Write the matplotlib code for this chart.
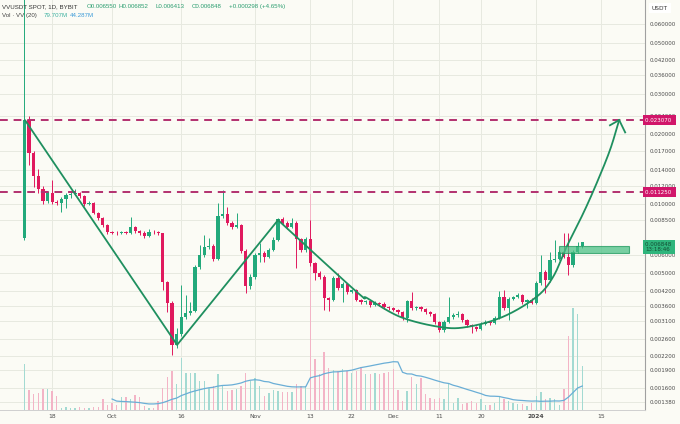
import numpy as np
import pandas as pd
import matplotlib
matplotlib.use("Agg")
import matplotlib.pyplot as plt
from matplotlib.patches import Rectangle
from matplotlib.ticker import NullLocator

# ---------------- data (daily candles, day 0 = 2023-09-12) ----------------
opens = [0.0071, 0.02307, 0.01661, 0.01320, 0.01159, 0.01029, 0.01115, 0.01018, 0.01009, 0.01049,
         0.01092, 0.01103, 0.01115, 0.01081, 0.00998, 0.01009, 0.00913, 0.00868, 0.00809, 0.00755,
         0.00750, 0.00745, 0.00755, 0.00748, 0.00793, 0.00762, 0.00748, 0.00725, 0.00755, 0.00752,
         0.00745, 0.00459, 0.00372, 0.00244, 0.00273, 0.00323, 0.00337, 0.00344, 0.00532, 0.00600,
         0.00650, 0.00657, 0.00577, 0.00885, 0.00903, 0.00826, 0.00793, 0.00809, 0.00625, 0.00441,
         0.00482, 0.00600, 0.00612, 0.00588, 0.00631, 0.00697, 0.00859, 0.00826, 0.00793, 0.00826,
         0.00704, 0.00631, 0.00704, 0.00554, 0.00502, 0.00482, 0.00390, 0.00383, 0.00477, 0.00432,
         0.00450, 0.00415, 0.00423, 0.00383, 0.00375, 0.00379, 0.00364, 0.00372, 0.00370, 0.00357,
         0.00353, 0.00347, 0.00340, 0.00320, 0.00379, 0.00353, 0.00357, 0.00350, 0.00340, 0.00334,
         0.00308, 0.00284, 0.00308, 0.00323, 0.00330, 0.00334, 0.00314, 0.00299, 0.00293, 0.00287,
         0.00302, 0.00308, 0.00305, 0.00320, 0.00395, 0.00353, 0.00387, 0.00395, 0.00402, 0.00375,
         0.00383, 0.00372, 0.00454, 0.00507, 0.00468, 0.00571, 0.00577, 0.00619, 0.00588, 0.00543,
         0.00619, 0.00655]
closes = [0.02307, 0.01661, 0.01320, 0.01159, 0.01029, 0.01115, 0.01018, 0.01009, 0.01049, 0.01092,
          0.01103, 0.01115, 0.01081, 0.00998, 0.01009, 0.00913, 0.00868, 0.00809, 0.00755, 0.00750,
          0.00745, 0.00755, 0.00748, 0.00793, 0.00762, 0.00748, 0.00725, 0.00755, 0.00752, 0.00745,
          0.00459, 0.00372, 0.00244, 0.00273, 0.00323, 0.00337, 0.00344, 0.00532, 0.00600, 0.00650,
          0.00657, 0.00577, 0.00885, 0.00903, 0.00826, 0.00793, 0.00809, 0.00625, 0.00441, 0.00482,
          0.00600, 0.00612, 0.00588, 0.00631, 0.00697, 0.00859, 0.00826, 0.00793, 0.00826, 0.00704,
          0.00631, 0.00704, 0.00554, 0.00502, 0.00482, 0.00390, 0.00383, 0.00477, 0.00432, 0.00450,
          0.00415, 0.00423, 0.00383, 0.00375, 0.00379, 0.00364, 0.00372, 0.00370, 0.00357, 0.00353,
          0.00347, 0.00340, 0.00320, 0.00379, 0.00353, 0.00357, 0.00350, 0.00340, 0.00334, 0.00308,
          0.00284, 0.00308, 0.00323, 0.00330, 0.00334, 0.00314, 0.00299, 0.00293, 0.00287, 0.00302,
          0.00308, 0.00305, 0.00320, 0.00395, 0.00353, 0.00387, 0.00395, 0.00402, 0.00375, 0.00383,
          0.00372, 0.00454, 0.00507, 0.00468, 0.00571, 0.00577, 0.00619, 0.00588, 0.00543, 0.00619,
          0.00655, 0.006848]
highs = [0.09, 0.0240, 0.01700, 0.01420, 0.01190, 0.01140, 0.01268, 0.01040, 0.01070, 0.01110,
         0.01130, 0.01159, 0.01130, 0.01090, 0.01030, 0.01020, 0.00925, 0.00880, 0.00815, 0.00765,
         0.00760, 0.00765, 0.00762, 0.00876, 0.00800, 0.00770, 0.00760, 0.00780, 0.00770, 0.00762,
         0.00750, 0.00465, 0.00380, 0.00290, 0.00445, 0.00402, 0.00375, 0.00545, 0.00663, 0.00732,
         0.00711, 0.00670, 0.01010, 0.01148, 0.00970, 0.00840, 0.00913, 0.00820, 0.00640, 0.00495,
         0.00615, 0.00680, 0.00625, 0.00645, 0.00720, 0.00870, 0.00875, 0.00840, 0.00868, 0.00840,
         0.00715, 0.00720, 0.00850, 0.00560, 0.00510, 0.00490, 0.00395, 0.00485, 0.00502, 0.00460,
         0.00455, 0.00430, 0.00428, 0.00388, 0.00385, 0.00385, 0.00378, 0.00376, 0.00374, 0.00360,
         0.00356, 0.00350, 0.00343, 0.00385, 0.00415, 0.00362, 0.00362, 0.00355, 0.00345, 0.00338,
         0.00312, 0.00315, 0.00395, 0.00338, 0.00342, 0.00338, 0.00318, 0.00302, 0.00297, 0.00307,
         0.00313, 0.00312, 0.00326, 0.00420, 0.00423, 0.00395, 0.00400, 0.00410, 0.00408, 0.00388,
         0.00390, 0.00462, 0.00600, 0.00515, 0.00619, 0.00697, 0.00630, 0.00748, 0.00748, 0.00630,
         0.00683, 0.006852]
lows = [0.0070, 0.01472, 0.01182, 0.01120, 0.01000, 0.01010, 0.01000, 0.00990, 0.00921, 0.00959,
        0.01060, 0.01090, 0.01060, 0.00980, 0.00985, 0.00900, 0.00850, 0.00795, 0.00740, 0.00740,
        0.00735, 0.00738, 0.00738, 0.00742, 0.00750, 0.00735, 0.00712, 0.00720, 0.00740, 0.00735,
        0.00425, 0.00340, 0.00222, 0.00238, 0.00268, 0.00318, 0.00330, 0.00340, 0.00520, 0.00590,
        0.00640, 0.00565, 0.00570, 0.00870, 0.00810, 0.00780, 0.00785, 0.00610, 0.00411, 0.00430,
        0.00475, 0.00560, 0.00560, 0.00580, 0.00625, 0.00690, 0.00810, 0.00780, 0.00785, 0.00527,
        0.00620, 0.00620, 0.00540, 0.00468, 0.00475, 0.00347, 0.00344, 0.00378, 0.00425, 0.00375,
        0.00408, 0.00410, 0.00378, 0.00368, 0.00370, 0.00358, 0.00360, 0.00362, 0.00352, 0.00348,
        0.00342, 0.00335, 0.00315, 0.00308, 0.00348, 0.00348, 0.00345, 0.00335, 0.00328, 0.00302,
        0.00278, 0.00280, 0.00305, 0.00318, 0.00325, 0.00308, 0.00294, 0.00276, 0.00282, 0.00283,
        0.00298, 0.00300, 0.00302, 0.00318, 0.00348, 0.00315, 0.00382, 0.00390, 0.00370, 0.00353,
        0.00368, 0.00368, 0.00445, 0.00411, 0.00460, 0.00560, 0.00570, 0.00580, 0.00492, 0.00535,
        0.00610, 0.006413]
volumes_m = [83, 36, 29, 31, 38, 38, 34, 25, 4, 5,
             4, 4, 5, 4, 4, 6, 5, 20, 9, 13,
             9, 23, 23, 20, 27, 23, 7, 4, 4, 16,
             40, 60, 71, 47, 94, 67, 67, 67, 52, 52,
             40, 43, 65, 43, 34, 36, 38, 43, 67, 52,
             58, 43, 25, 31, 36, 34, 33, 33, 33, 47,
             43, 43, 391, 92, 65, 105, 76, 72, 71, 74,
             71, 67, 71, 78, 65, 65, 67, 65, 67, 69,
             74, 36, 16, 34, 60, 47, 58, 29, 22, 20,
             22, 20, 47, 13, 22, 11, 13, 16, 13, 20,
             9, 9, 13, 25, 20, 16, 13, 11, 11, 7,
             13, 25, 33, 20, 22, 20, 9, 38, 134, 185,
             174, 79.707]

date_tick_pos = [6, 19, 34, 50, 62, 71, 80, 90, 99, 111, 125]
date_tick_labels = ['18', 'Oct', '16', 'Nov', '13', '22', 'Dec', '11', '20', '2024', '15']
price_ticks = [0.06, 0.05, 0.042, 0.036, 0.03, 0.024, 0.02, 0.017, 0.014, 0.012, 0.010,
               0.0085, 0.006, 0.005, 0.0042, 0.0036, 0.0031, 0.0026, 0.0022, 0.0019, 0.0016, 0.00138]
levels = [0.02307, 0.01125]

# hand-drawn pattern lines (day index, price)
v_x = [0.1, 33.1, 55.0]
v_p = [0.02307, 0.00245, 0.00851]
cup_x = [55.0, 72.1, 74.3, 81.5, 90.1, 96.0, 103.9, 111.1, 114.7, 117.6, 121.2, 124.1, 127.0, 129.0]
cup_p = [0.00851, 0.00415, 0.00391, 0.00324, 0.00293, 0.00293, 0.00325, 0.00396, 0.00484,
         0.00652, 0.00910, 0.01227, 0.01710, 0.02307]
arrow_x = [127.0, 129.0, 130.3]
arrow_p = [0.0219, 0.02307, 0.0204]
box_x = [115.9, 131.1]
box_p = [0.00614, 0.00658]

# ---------------- style ----------------
BG = '#fbfbf5'
GRID = '#e7e9e0'
UP = '#22a97b'
DOWN = '#e0195e'
VUP = '#a3dad2'
VDOWN = '#f3b4c6'
LINE = '#1f8f5f'
LEVEL = '#b3306f'
TXT = '#4a4a4a'
HFONT = ['Liberation Sans', 'DejaVu Sans']

W, H = 680, 424
fig = plt.figure(figsize=(W / 100, H / 100), dpi=100, facecolor=BG)
rect = [0, 14 / H, 645 / W, 410 / H]
ax_v = fig.add_axes(rect)
ax = fig.add_axes(rect, sharex=ax_v)
ax_v.set_zorder(1)
ax.set_zorder(2)
ax.patch.set_visible(False)
ax_v.set_facecolor(BG)

n = len(closes)
x = np.arange(n)
o = np.array(opens)
c = np.array(closes)
hi = np.array(highs)
lo = np.array(lows)
up = c >= o

# price axis setup (first, so its transform can be used for the grid)
ax.set_yscale('log')
ax.set_ylim(0.00128, 0.0764)
ax.set_xlim(-5.31, 134.6)

# grid drawn in the back layer so volume bars sit on top of it
for p in price_ticks:
    ax_v.plot([0, 1], [p, p], transform=ax.get_yaxis_transform(), color=GRID, lw=0.7, zorder=0)
for d in date_tick_pos:
    ax_v.axvline(d, color=GRID, lw=0.7, zorder=0)

# volume
vol = np.array(volumes_m, dtype=float)
ax_v.bar(x, vol, width=0.3, color=np.where(up, VUP, VDOWN), zorder=2)
ma = pd.Series(vol).rolling(20).mean()
ax_v.plot(x, ma, color='#6aaed6', lw=0.9, zorder=3)
ax_v.set_ylim(0, 742)
ax_v.set_xlim(-5.31, 134.6)
for s in ax_v.spines.values():
    s.set_visible(False)
ax_v.set_yticks([])
ax_v.tick_params(axis='x', length=0, labelbottom=False)

ax.yaxis.tick_right()
ax.yaxis.set_minor_locator(NullLocator())
ax.set_yticks(price_ticks)
ax.set_yticklabels([f'{p:.6f}' for p in price_ticks])
ax.set_xticks(date_tick_pos)
ax.set_xticklabels(date_tick_labels)
for lab in ax.get_xticklabels():
    if lab.get_text() == '2024':
        lab.set_fontweight('bold')
ax.tick_params(axis='y', length=0, pad=3.6, labelsize=4.0, labelcolor=TXT)
ax.tick_params(axis='x', length=0, pad=2.8, labelsize=4.3, labelcolor=TXT)
ax.grid(False)
for k in ['top', 'left']:
    ax.spines[k].set_visible(False)
ax.spines['right'].set_color('#a0a0a0')
ax.spines['right'].set_linewidth(0.8)
ax.spines['bottom'].set_color('#cfcfcf')
ax.spines['bottom'].set_linewidth(0.7)

# candles
colors = np.where(up, UP, DOWN)
ax.vlines(x, lo, hi, colors=colors, lw=0.7, zorder=3)
ax.bar(x, np.abs(c - o), bottom=np.minimum(o, c), width=0.7, color=colors, zorder=4)

# levels
for lv in levels:
    ax.axhline(lv, color=LEVEL, lw=1.4, ls=(0, (4, 3)), zorder=5)
    ax.text(1.0, lv, f'{lv:.6f}'.ljust(9), transform=ax.get_yaxis_transform(), ha='left', va='center',
            fontsize=4.0, color='white', zorder=20, clip_on=False,
            bbox=dict(boxstyle='square,pad=0.45', fc='#d1166a', ec='none'))

# pattern drawings
ax.plot(v_x, v_p, color=LINE, lw=1.3, zorder=6, solid_capstyle='round')


def catmull(xs, ys, steps=20):
    P = np.column_stack([xs, np.log(ys)])
    P = np.vstack([P[0] - (P[1] - P[0]), P, P[-1] + (P[-1] - P[-2])])
    out = []
    for k in range(1, len(P) - 2):
        p0, p1, p2, p3 = P[k - 1], P[k], P[k + 1], P[k + 2]
        for t in np.linspace(0, 1, steps, endpoint=False):
            t2, t3 = t * t, t * t * t
            pt = 0.5 * ((2 * p1) + (-p0 + p2) * t + (2 * p0 - 5 * p1 + 4 * p2 - p3) * t2
                        + (-p0 + 3 * p1 - 3 * p2 + p3) * t3)
            out.append(pt)
    out.append(P[-2])
    out = np.array(out)
    return out[:, 0], np.exp(out[:, 1])


cx, cp = catmull(cup_x, cup_p)
ax.plot(cx, cp, color=LINE, lw=1.3, zorder=6)
ax.plot(arrow_x, arrow_p, color=LINE, lw=1.3, zorder=6, solid_joinstyle='miter')

# green box
ax.add_patch(Rectangle((box_x[0], box_p[0]), box_x[1] - box_x[0], box_p[1] - box_p[0],
                       fc='#4cc187', ec='#1f9a5e', lw=0.8, alpha=0.75, zorder=7))

# last price label
ax.text(1.0, 0.00652, '0.006848 \n13:18:46', transform=ax.get_yaxis_transform(), ha='left', va='center',
        fontsize=4.0, color='#134d33', zorder=20, clip_on=False, linespacing=1.0,
        bbox=dict(boxstyle='square,pad=0.35', fc='#2fb57c', ec='none'))

# USDT label
fig.text(652 / W, 1 - 8 / H, 'USDT', fontsize=4.2, color='#333333', va='center', ha='left',
         bbox=dict(boxstyle='square,pad=0.5', fc='white', ec='none'))

# header
hy1 = 1 - 6.5 / H
hy2 = 1 - 15.8 / H
fs = 4.4
GREEN_T = '#2a9d6f'
fig.text(2 / W, hy1, 'VVUSDT SPOT, 1D, BYBIT', fontsize=fs, color='#333333', va='center', family=HFONT)
fig.text(87 / W, hy1, 'O0.006550', fontsize=fs, color=GREEN_T, va='center', family=HFONT)
fig.text(119 / W, hy1, 'H0.006852', fontsize=fs, color=GREEN_T, va='center', family=HFONT)
fig.text(156 / W, hy1, 'L0.006413', fontsize=fs, color=GREEN_T, va='center', family=HFONT)
fig.text(192 / W, hy1, 'C0.006848', fontsize=fs, color=GREEN_T, va='center', family=HFONT)
fig.text(229 / W, hy1, '+0.000298 (+4.65%)', fontsize=fs, color=GREEN_T, va='center', family=HFONT)
fig.text(2 / W, hy2, 'Vol · VV (20)', fontsize=fs, color='#444444', va='center', family=HFONT)
fig.text(44 / W, hy2, '79.707M', fontsize=fs, color='#3bb0a0', va='center', family=HFONT)
fig.text(70 / W, hy2, '44.287M', fontsize=fs, color='#3a9ad8', va='center', family=HFONT)

fig.savefig('out.png', dpi=100, facecolor=BG)
